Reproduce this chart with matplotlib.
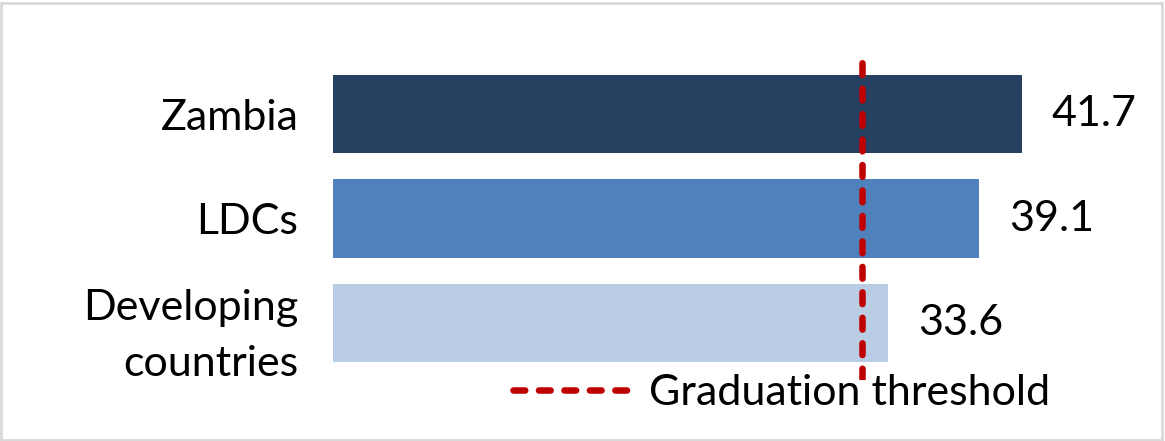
import matplotlib.pyplot as plt
from matplotlib.lines import Line2D
from matplotlib.patches import Rectangle

categories = ["Zambia", "LDCs", "Developing\ncountries"]
values = [41.7, 39.1, 33.6]
threshold = 32
threshold_label = "Graduation threshold"
colors = ["#254061", "#4F81BD", "#B9CDE5"]
red = "#C00000"

W, H = 1165, 441
fig = plt.figure(figsize=(W / 100, H / 100), dpi=100)
FONT = "Lato"
FS = 31

ax = fig.add_axes([333 / W, 1 - 380 / H, 817 / W, 325 / H])
ypos = list(range(len(categories)))
ax.barh(ypos, values, height=0.75, color=colors)
ax.set_ylim(2.545, -0.565)
ax.set_xlim(0, 49.45)
LW = 4.7
DASH = (1.8, 2.1)
vline = ax.axvline(threshold, color=red, lw=LW)
vline.set_dashes(DASH)
vline.set_dash_capstyle("round")

for i, v in zip(ypos, values):
    ax.text(v + 1.8, i, f"{v}", va="center", ha="left", fontsize=FS, family=FONT)

ax.set_yticks(ypos)
ax.set_yticklabels(categories, fontsize=FS, family=FONT)
for t in ax.get_yticklabels():
    t.set_linespacing(1.6)
ax.set_xticks([])
ax.tick_params(axis="y", length=0, pad=25)
for s in ax.spines.values():
    s.set_visible(False)

handle = Line2D([], [], color=red, lw=LW, dashes=DASH, dash_capstyle="round")
fig.legend([handle], [threshold_label], loc="center left",
           bbox_to_anchor=(513 / W, 1 - 393 / H), frameon=False,
           prop={"family": FONT, "size": FS}, handlelength=2.75,
           handletextpad=0.4, borderpad=0, borderaxespad=0)

fig.patches.append(Rectangle((1 / W, 1 / H), (W - 4) / W, (H - 4) / H,
                             transform=fig.transFigure, fill=False,
                             ec="#D9D9D9", lw=2))

fig.savefig("out.png", dpi=100)
